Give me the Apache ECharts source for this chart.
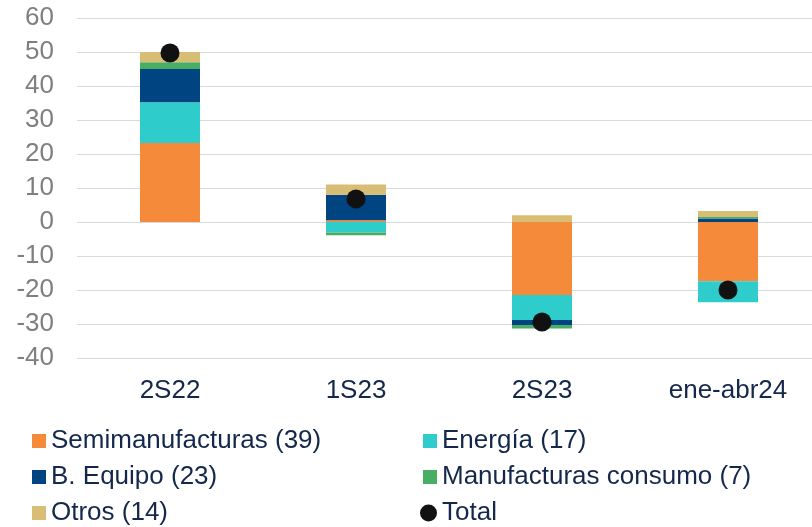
<!DOCTYPE html>
<html>
<head>
<meta charset="utf-8">
<script src="https://cdn.jsdelivr.net/npm/echarts@6/dist/echarts.min.js"></script>
<style>html,body{margin:0;padding:0;background:#fff;overflow:hidden;width:812px;height:527px;}#c{width:830px;height:527px;}</style>
</head>
<body>
<div id="c"></div>
<script>
const categories = ['2S22', '1S23', '2S23', 'ene-abr24'];
const semimanufacturas = [23.2, 0.5, -21.5, -17.4];
const energia = [12.0, -3.1, -7.3, -6.2];
const bEquipo = [9.8, 7.5, -1.5, 1.0];
const manufConsumo = [2.0, -0.8, -1.0, 0.5];
const otros = [3.0, 3.0, 2.0, 1.7];
const total = [49.7, 6.8, -29.4, -20.0];

const names = ['Semimanufacturas (39)', 'Energía (17)', 'B. Equipo (23)', 'Manufacturas consumo (7)', 'Otros (14)', 'Total'];
const colors = ['#F58A3A', '#2ECDCB', '#004481', '#48AE64', '#D8BE75', '#111111'];
const font = 'Liberation Sans, Arial, sans-serif';
const navy = '#14284B';

function barSeries(name, data, color) {
  return { name, type: 'bar', stack: 'a', data, barWidth: 60, itemStyle: { color }, emphasis: { disabled: true } };
}

const chart = echarts.init(document.getElementById('c'));
const legendText = { fontFamily: font, fontSize: 26, color: navy, lineHeight: 26 };
chart.setOption({
  animation: false,
  grid: { left: 77, width: 744, top: 18, height: 340 },
  legend: [
    { orient: 'vertical', left: 32, top: 428, height: 100, padding: 0, itemWidth: 14, itemHeight: 14, itemGap: 10,
      data: [names[0], names[2], names[4]], textStyle: legendText, icon: 'rect' },
    { orient: 'vertical', left: 423, top: 428, height: 100, padding: 0, itemWidth: 14, itemHeight: 14, itemGap: 10,
      data: [names[1], names[3]], textStyle: legendText, icon: 'rect' },
    { orient: 'vertical', left: 420, top: 500, padding: 0, itemWidth: 17, itemHeight: 17,
      data: [names[5]], textStyle: legendText, icon: 'circle' }
  ],
  xAxis: {
    type: 'category', data: categories, position: 'bottom',
    axisLine: { show: false }, axisTick: { show: false },
    axisLabel: { fontFamily: font, fontSize: 26, color: navy, margin: 20 }
  },
  yAxis: {
    type: 'value', min: -40, max: 60, interval: 10,
    axisLine: { show: false }, axisTick: { show: false },
    splitLine: { lineStyle: { color: '#D9D9D9', width: 1 } },
    axisLabel: { fontFamily: font, fontSize: 26, color: '#7F7F7F', margin: 23 }
  },
  series: [
    barSeries(names[0], semimanufacturas, colors[0]),
    barSeries(names[1], energia, colors[1]),
    barSeries(names[2], bEquipo, colors[2]),
    barSeries(names[3], manufConsumo, colors[3]),
    barSeries(names[4], otros, colors[4]),
    { name: names[5], type: 'scatter', data: total, symbol: 'circle', symbolSize: 19,
      itemStyle: { color: colors[5], opacity: 1 }, z: 5 }
  ]
});
</script>
</body>
</html>
